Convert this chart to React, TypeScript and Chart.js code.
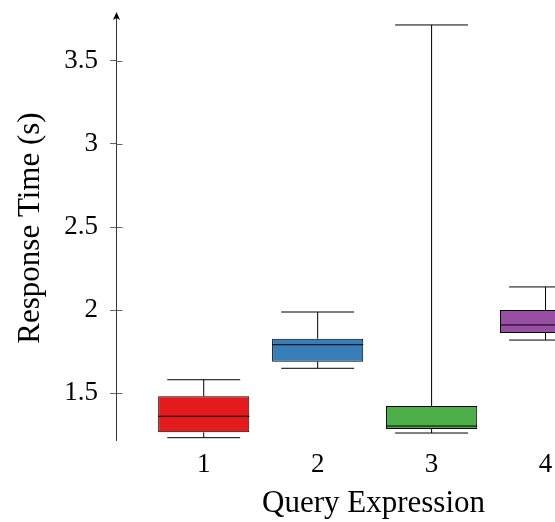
import React, { useEffect, useRef } from "react";
import { Chart, registerables } from "chart.js";

Chart.register(...registerables);

const categories = [1, 2, 3, 4];
const whiskerLow = [1.231, 1.649, 1.259, 1.819];
const q1 = [1.263, 1.689, 1.283, 1.861];
const median = [1.36, 1.791, 1.301, 1.91];
const q3 = [1.48, 1.827, 1.422, 2.0];
const whiskerHigh = [1.58, 1.988, 3.717, 2.139];
const colors = ["#e41a1c", "#377eb8", "#4daf4a", "#984ea3"];
const yTicks = [1.5, 2, 2.5, 3, 3.5];
const yTickLabels = ["1.5", "2", "2.5", "3", "3.5"];
const xTickLabels = ["1", "2", "3", "4"];

const FONT = "'Liberation Serif', 'Times New Roman', serif";

const boxPlugin = {
  id: "boxExtras",
  afterDatasetsDraw(chart: any) {
    const { ctx, chartArea, scales } = chart;
    const xs = scales.x;
    const ys = scales.y;
    ctx.save();
    ctx.beginPath();
    ctx.rect(chartArea.left, chartArea.top - 20, chartArea.right - chartArea.left, chartArea.bottom - chartArea.top + 40);
    ctx.clip();
    ctx.strokeStyle = "#000";
    ctx.lineWidth = 1;
    const meta = chart.getDatasetMeta(0);
    categories.forEach((c, i) => {
      const bar = meta.data[i];
      const half = bar.width / 2;
      const cx = xs.getPixelForValue(c);
      const capHalf = half * 0.8;
      const yLo = ys.getPixelForValue(whiskerLow[i]);
      const yQ1 = ys.getPixelForValue(q1[i]);
      const yMed = ys.getPixelForValue(median[i]);
      const yQ3 = ys.getPixelForValue(q3[i]);
      const yHi = ys.getPixelForValue(whiskerHigh[i]);
      ctx.beginPath();
      ctx.moveTo(cx, yQ3);
      ctx.lineTo(cx, yHi);
      ctx.moveTo(cx - capHalf, yHi);
      ctx.lineTo(cx + capHalf, yHi);
      ctx.moveTo(cx, yQ1);
      ctx.lineTo(cx, yLo);
      ctx.moveTo(cx - capHalf, yLo);
      ctx.lineTo(cx + capHalf, yLo);
      ctx.stroke();
      ctx.beginPath();
      ctx.moveTo(cx - half, yMed);
      ctx.lineTo(cx + half, yMed);
      ctx.stroke();
    });
    ctx.restore();

    // y axis line with arrow and inner tick halves
    ctx.save();
    const ax = Math.round(chartArea.left) + 0.5;
    ctx.strokeStyle = "#333";
    ctx.lineWidth = 1;
    ctx.beginPath();
    ctx.moveTo(ax, chartArea.bottom);
    ctx.lineTo(ax, chartArea.top + 2);
    ctx.stroke();
    ctx.fillStyle = "#000";
    ctx.beginPath();
    ctx.moveTo(ax, chartArea.top - 3);
    ctx.lineTo(ax - 3.5, chartArea.top + 5);
    ctx.lineTo(ax, chartArea.top + 3);
    ctx.lineTo(ax + 3.5, chartArea.top + 5);
    ctx.closePath();
    ctx.fill();
    ctx.strokeStyle = "#666";
    ctx.beginPath();
    yTicks.forEach((v) => {
      const py = Math.round(ys.getPixelForValue(v)) + 0.5;
      ctx.moveTo(ax, py);
      ctx.lineTo(ax + 6, py);
    });
    ctx.stroke();
    ctx.restore();
  },
};

const zeroPad = (s: any) => {
  s.paddingTop = 0;
  s.paddingBottom = 0;
  s.paddingLeft = 0;
  s.paddingRight = 0;
};

export default function App() {
  const ref = useRef<HTMLCanvasElement>(null);
  useEffect(() => {
    if (!ref.current) return;
    const chart = new Chart(ref.current, {
      type: "bar",
      data: {
        datasets: [
          {
            data: categories.map((c, i) => ({ x: c, y: [q1[i], q3[i]] })) as any,
            backgroundColor: colors,
            borderColor: "#000",
            borderWidth: 1,
            borderSkipped: false,
            categoryPercentage: 0.8,
            barPercentage: 1.0,
          },
        ],
      },
      options: {
        responsive: false,
        animation: false,
        layout: { autoPadding: false, padding: { top: 7, right: 0, left: 0, bottom: 0 } },
        plugins: { legend: { display: false }, tooltip: { enabled: false } },
        scales: {
          x: {
            type: "linear",
            offset: false,
            min: 0.23,
            max: 4.75,
            grid: { display: false, drawTicks: false, offset: false },
            border: { display: false },
            afterBuildTicks: (s: any) => {
              s.ticks = categories.map((v) => ({ value: v }));
            },
            afterFit: (s: any) => {
              s.height = 81;
              zeroPad(s);
            },
            ticks: {
              padding: 8,
              color: "#000",
              font: { family: FONT, size: 27 },
              callback: (_v: any, i: number) => xTickLabels[i],
              maxRotation: 0,
              autoSkip: false,
            },
            title: {
              display: true,
              text: "Query Expression",
              color: "#000",
              font: { family: FONT, size: 31 },
              padding: { top: 0, bottom: 0 },
            },
          },
          y: {
            type: "linear",
            min: 1.211,
            max: 3.777,
            grid: { display: true, drawOnChartArea: false, drawTicks: true, tickLength: 6, color: "#666" },
            border: { display: false },
            afterBuildTicks: (s: any) => {
              s.ticks = yTicks.map((v) => ({ value: v }));
            },
            afterFit: (s: any) => {
              s.width = 108;
              zeroPad(s);
            },
            ticks: {
              padding: 12,
              color: "#000",
              font: { family: FONT, size: 27 },
              callback: (_v: any, i: number) => yTickLabels[i],
              autoSkip: false,
            },
            title: {
              display: true,
              text: "Response Time (s)",
              color: "#000",
              font: { family: FONT, size: 31 },
              padding: { top: 4, bottom: 0 },
            },
          },
        },
      },
      plugins: [boxPlugin],
    });
    return () => chart.destroy();
  }, []);
  return (
    <div
      style={{
        position: "fixed",
        left: 8,
        top: 8,
        width: 547,
        height: 514,
        overflow: "hidden",
      }}
    >
      <canvas ref={ref} width={623} height={514} style={{ display: "block", width: 623, height: 514 }} />
    </div>
  );
}
